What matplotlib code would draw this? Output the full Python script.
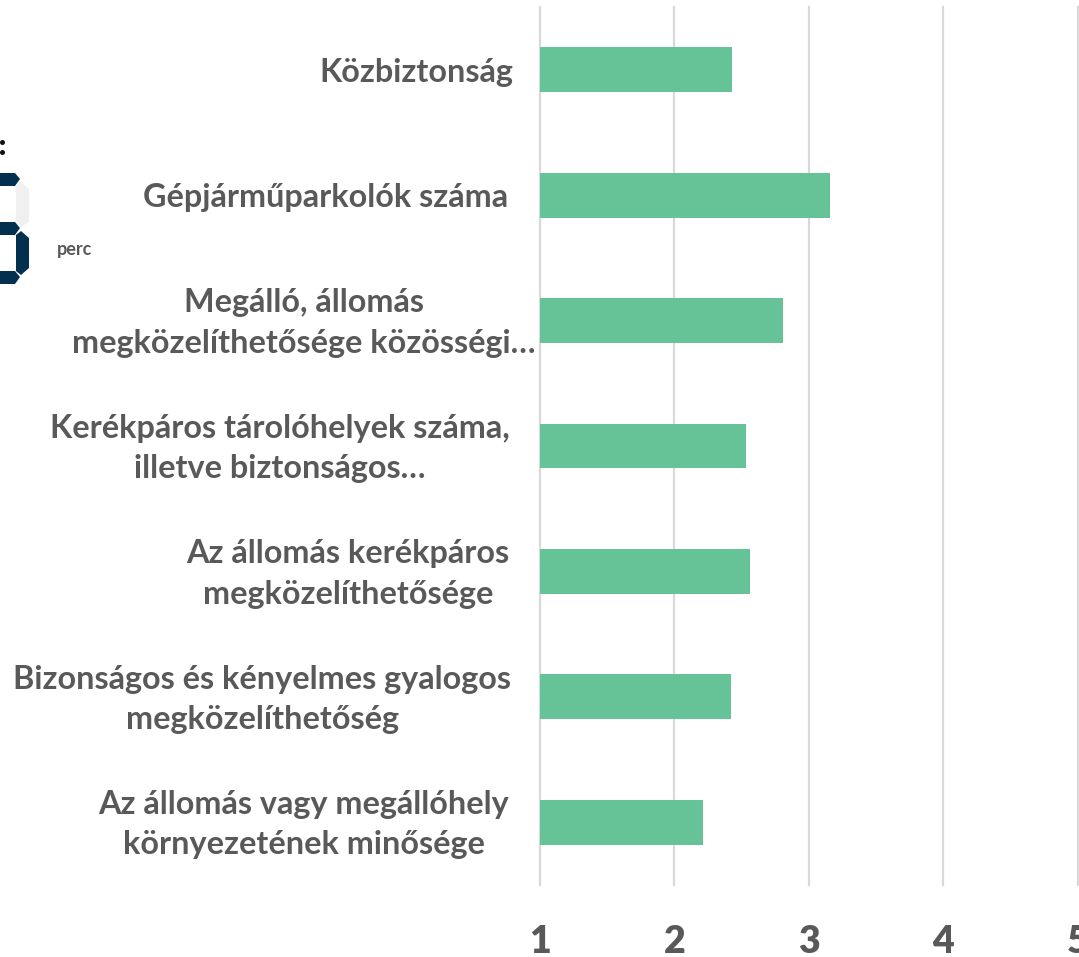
import matplotlib
matplotlib.use("Agg")
import matplotlib.pyplot as plt
from matplotlib.patches import Polygon
from matplotlib.transforms import blended_transform_factory, ScaledTranslation

categories = ["Közbiztonság", "Gépjárműparkolók száma",
              "Megálló, állomás\nmegközelíthetősége közösségi…",
              "Kerékpáros tárolóhelyek száma,\nilletve biztonságos…",
              "Az állomás kerékpáros\nmegközelíthetősége",
              "Bizonságos és kényelmes gyalogos\nmegközelíthetőség",
              "Az állomás vagy megállóhely\nkörnyezetének minősége"]
values = [2.43, 3.16, 2.81, 2.53, 2.56, 2.42, 2.21]
xticks = [1, 2, 3, 4, 5]
label_centers_px = [416, 326, 304, 280, 348, 262, 304]
W, H = 1079, 957
GREY = "#595959"
plt.rcParams['font.family'] = ['Lato', 'DejaVu Sans']
fig = plt.figure(figsize=(W/100, H/100), dpi=100)
left, right = 540, 1077.5
top, bottom = 7, 885
ax = fig.add_axes([left/W, 1-bottom/H, (right-left)/W, (bottom-top)/H])
ax.set_xlim(1, 5)
ax.set_ylim(6.5, -0.5)
ax.barh(range(len(values)), values, left=0, height=0.358, color="#66C398", zorder=3)
ax.set_xticks(xticks)
ax.set_yticks([])
ax.grid(axis='x', color="#D9D9D9", lw=1.6, zorder=0)
for gl in ax.get_xgridlines():
    gl.set_clip_on(False)
ax.tick_params(axis='x', length=0, pad=29, labelsize=27, labelcolor=GREY)
for lab in ax.get_xticklabels():
    lab.set_fontweight('heavy')
for s in ax.spines.values():
    s.set_visible(False)
trans = blended_transform_factory(fig.transFigure, ax.transData) + ScaledTranslation(0, -2.5/100, fig.dpi_scale_trans)
for i, (c, cx) in enumerate(zip(categories, label_centers_px)):
    ax.text(cx/W, i, c, transform=trans,
            ha='center', va='center', ma='center', fontsize=23.3, fontweight='bold',
            color=GREY, linespacing=1.47)

# decorative seven-segment fragment at the left edge
px = fig.add_axes([0, 0, 1, 1], facecolor='none')
px.set_xlim(0, W); px.set_ylim(H, 0); px.axis('off')
NAVY, PALE = "#04304F", "#F0F0F0"
segs = [([(0,173),(15,173),(20,179),(15,186),(0,186)], NAVY),
        ([(16,186),(21,182),(29,189),(29,222),(21,227),(16,221)], PALE),
        ([(0,222),(15,222),(20,228),(15,235),(0,235)], NAVY),
        ([(16,235),(21,231),(29,238),(29,268),(21,275),(16,271)], NAVY),
        ([(0,271),(15,271),(20,277),(15,284),(0,284)], NAVY)]
for pts, col in segs:
    px.add_patch(Polygon(pts, closed=True, fc=col, ec='none'))
px.scatter([1.5, 1.5], [142, 152], s=13, color="#111111", linewidths=0)
px.text(75, 250, "perc", ha='center', va='center', fontsize=13, fontweight='bold', color=GREY)
fig.savefig("out.png", dpi=100)
